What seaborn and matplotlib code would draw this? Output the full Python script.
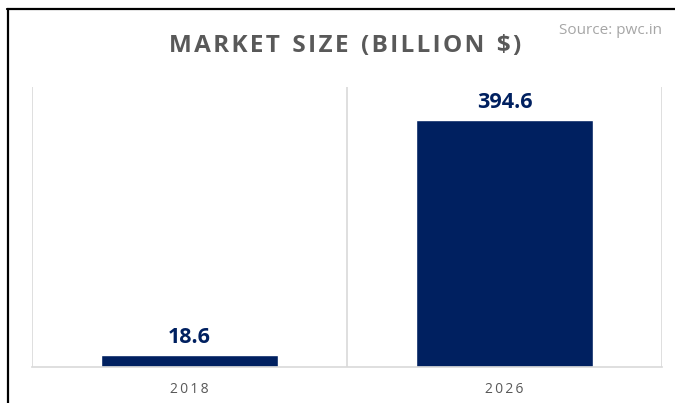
import matplotlib
matplotlib.use("Agg")
import matplotlib.pyplot as plt
from matplotlib.lines import Line2D
import seaborn as sns
import pandas as pd

years = ["2018", "2026"]
market_size = [18.6, 394.6]
title_text = "MARKET SIZE (BILLION $)"
source_text = "Source: pwc.in"

NAVY = "#002060"
GRID = "#d9d9d9"
TEXT = "#595959"

sns.set_theme(style="white")
plt.rcParams["font.family"] = ["Open Sans", "DejaVu Sans"]

df = pd.DataFrame({"year": years, "size": market_size})

fig = plt.figure(figsize=(6.75, 4.03), dpi=100)
ax = fig.add_axes([32 / 675, 36 / 403, 630 / 675, 280 / 403])

sns.barplot(data=df, x="year", y="size", color=NAVY, width=0.56,
            saturation=1, ax=ax)

ax.set_ylim(0, 447)
ax.set_xlim(-0.5, 1.5)
ax.set_xlabel("")
ax.set_ylabel("")
ax.set_yticks([])
for s in ["top", "left", "right"]:
    ax.spines[s].set_visible(False)
ax.spines["bottom"].set_color(GRID)
ax.spines["bottom"].set_linewidth(1.2)

# vertical separators between categories
for xv in [-0.5, 0.5, 1.5]:
    ax.axvline(xv, color=GRID, lw=1.2, zorder=0)

ax.tick_params(axis="x", length=0, pad=11, labelsize=10, labelcolor=TEXT)
ax.set_xticks(range(len(years)))
ax.set_xticklabels(["\u2009".join(y) for y in years])

for cont in ax.containers:
    ax.bar_label(cont, labels=[f"{v:.1f}" for v in market_size], padding=5,
                 fontsize=15.5, fontweight="bold", color=NAVY)

# letter-spaced title
spaced_title = "\u200a".join(title_text).replace("\u200a \u200a", "  ")
fig.text(0.511, 0.886, spaced_title, ha="center", va="center", fontsize=17.5,
         fontweight="bold", color=TEXT)
fig.text(0.981, 0.925, source_text, ha="right", va="center", fontsize=11,
         color="#a6a6a6")

# outer frame (top and left edges)
fig.add_artist(Line2D([7 / 675, 1.0], [1 - 9 / 403, 1 - 9 / 403],
                      transform=fig.transFigure, color="black", lw=1.6))
fig.add_artist(Line2D([8 / 675, 8 / 675], [0, 1 - 9 / 403],
                      transform=fig.transFigure, color="black", lw=1.6))

fig.savefig("out.png", dpi=100)
